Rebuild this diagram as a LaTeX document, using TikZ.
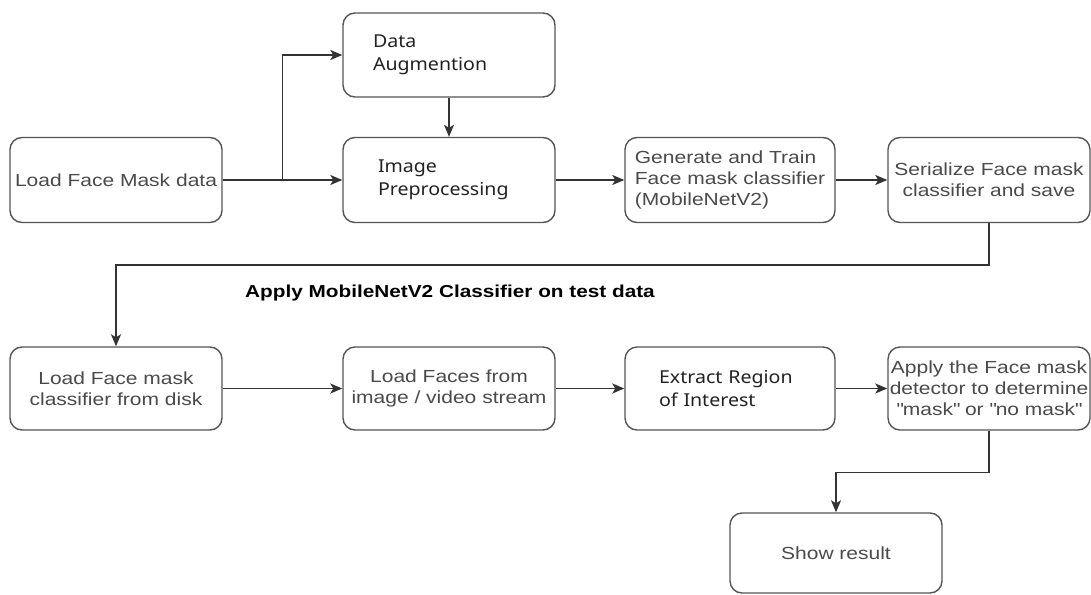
\documentclass[tikz,border=0pt]{standalone}
\usepackage{fontspec}
\usepackage{tikz}
\usetikzlibrary{positioning,arrows.meta,calc}
\newfontfamily\arialf[FakeStretch=1.2]{Liberation Sans}
\newfontfamily\notof[FakeStretch=1.1]{Noto Sans}
\definecolor{cLine}{HTML}{333333}
\definecolor{cEdge}{HTML}{555555}
\definecolor{cText}{HTML}{4A4A4A}
\definecolor{cDark}{HTML}{222222}

\begin{document}
\begin{tikzpicture}[x=1pt,y=-1pt,
  box/.style={draw=cEdge,line width=1.4pt,rounded corners=12pt,minimum width=212pt,minimum height=85pt,inner sep=0pt,
    font=\arialf\fontsize{17.5}{21}\selectfont,text=cText,align=center},
  nbox/.style={box,font=\notof\fontsize{17.8}{23.5}\selectfont,text=cDark,align=left},
  ar/.style={-{Stealth[length=12pt,width=10pt,inset=3pt]},draw=cLine,line width=1.5pt}
]
\useasboundingbox (0,0) rectangle (1091,594);
\fill[white] (0,0) rectangle (1091,594);

\node[box] (load) at (116,180) {Load Face Mask data};
\node[nbox,minimum height=84pt,text width=152pt] (aug) at (449,55) {Data\\Augmention};
\node[nbox,text width=142pt] (prep) at (449,180) {Image\\Preprocessing};
\node[box,minimum width=210pt,align=left] (gen) at (730,180) {Generate and Train\\Face mask classifier\\(MobileNetV2)};
\node[box,minimum width=202pt] (ser) at (989,180) {Serialize Face mask\\classifier and save};

\node[font=\arialf\bfseries\fontsize{17.3}{20}\selectfont] (lbl) at (450,293) {Apply MobileNetV2 Classifier on test data};

\node[box,minimum height=83pt] (clf) at (116,388.5) {Load Face mask\\classifier from disk};
\node[box,minimum height=83pt] (faces) at (449,388.5) {Load Faces from\\image / video stream};
\node[nbox,minimum width=210pt,minimum height=83pt,text width=142pt] (roi) at (730,388.5) {Extract Region\\of Interest};
\node[box,minimum width=202pt,minimum height=83pt] (det) at (989,388.5)
  {Apply the Face mask\\detector to determine\\\textquotedbl mask\textquotedbl{} or \textquotedbl no mask\textquotedbl};
\node[box,minimum height=80pt] (show) at (836,553) {Show result};

\coordinate (br) at ($(load.east)!0.5!(prep.west)$);
\draw[ar] (load) -- (prep);
\draw[ar] (br) |- (aug.west);
\draw[ar] (aug) -- (prep);
\draw[ar] (prep) -- (gen);
\draw[ar] (gen) -- (ser);
\draw[ar] (ser.south) -- ++(0,42) -| (clf.north);
\draw[ar] (clf) -- (faces);
\draw[ar] (faces) -- (roi);
\draw[ar] (roi) -- (det);
\draw[ar] (det.south) -- ++(0,42) -| (show.north);
\end{tikzpicture}
\end{document}
